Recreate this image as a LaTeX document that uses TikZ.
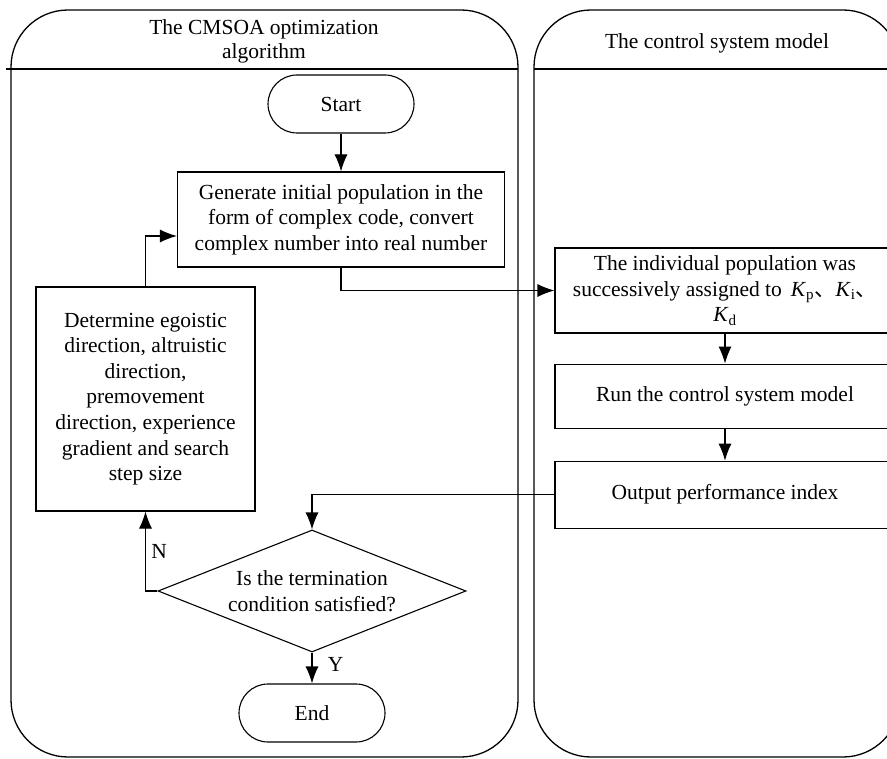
\documentclass[tikz,border=0pt]{standalone}
\usepackage{fontspec}
\setmainfont{Liberation Serif}
\newfontfamily\cjk{Noto Sans CJK SC}
\usetikzlibrary{positioning,calc,arrows.meta,shapes.geometric}

\begin{document}
\begin{tikzpicture}[x=1pt,y=-1pt,
  font=\fontsize{21.5}{25.6}\selectfont,
  line width=1.1pt,
  box/.style={draw, rectangle, align=center, inner sep=0pt},
  term/.style={draw, rectangle, rounded corners=29pt, minimum width=146pt, minimum height=58pt},
  decision/.style={draw, diamond, aspect=2.52, minimum width=308pt, minimum height=122pt, inner sep=0pt, align=center},
  lane/.style={draw, rounded corners=57pt, line width=1.3pt},
  arr/.style={-{Latex[length=17pt,width=13pt]}}]
    \useasboundingbox (0,0) rectangle (887,759);
    \clip (0,0) rectangle (887,759);
    %
    \draw[lane] (11,10) rectangle (518,757);
    \draw[lane] (534,10) rectangle (900,757);
    \draw[line width=1.3pt] (6,69) -- (518,69);
    \draw[line width=1.3pt] (534,69) -- (900,69);
    \node[align=center, font=\fontsize{21.5}{24}\selectfont] (ttl_alg) at (264,41) {The CMSOA optimization\\algorithm};
    \node (ttl_sys) at (717,43) {The control system model};
    %
    \node[term] (start) at (341,104) {Start};
    \node[box, minimum width=327pt, minimum height=95pt] (gen) at (341,219.5) {Generate initial population in the\\form of complex code, convert\\complex number into real number};
    \node[box, minimum width=219pt, minimum height=224pt] (det) at (145.5,399) {Determine egoistic\\direction, altruistic\\direction,\\premovement\\direction, experience\\gradient and search\\step size};
    \node[decision] (cond) at (312,591) {Is the termination\\condition satisfied?};
    \node[term] (stop) at (312,713) {End};
    %
    \node[box, minimum width=340pt, minimum height=85pt] (ind) at (725,290.5) {The individual population was\\successively assigned to \,\textit{K}\textsubscript{p}{\cjk 、}\textit{K}\textsubscript{i}{\cjk 、}\\\textit{K}\textsubscript{d}};
    \node[box, minimum width=340pt, minimum height=64pt, below=30pt of ind] (run) {Run the control system model};
    \node[box, minimum width=340pt, minimum height=67pt, below=32pt of run] (out) {Output performance index};
    %
    \draw[arr] (start) -- (gen);
    \draw[arr] (gen.south) |- (ind.west);
    \draw[arr] (ind) -- (run);
    \draw[arr] (run) -- (out);
    \draw[arr] (out.west) -| (cond.north);
    \draw[arr] (cond) -- node[right, pos=0.4, xshift=12pt]{Y} (stop);
    \draw[arr] (cond.west) -| node[right, pos=0.75, xshift=2pt]{N} (det.south);
    \draw[arr] (det.north) |- ([yshift=-16.5pt]gen.west);
  \end{tikzpicture}
\end{document}
